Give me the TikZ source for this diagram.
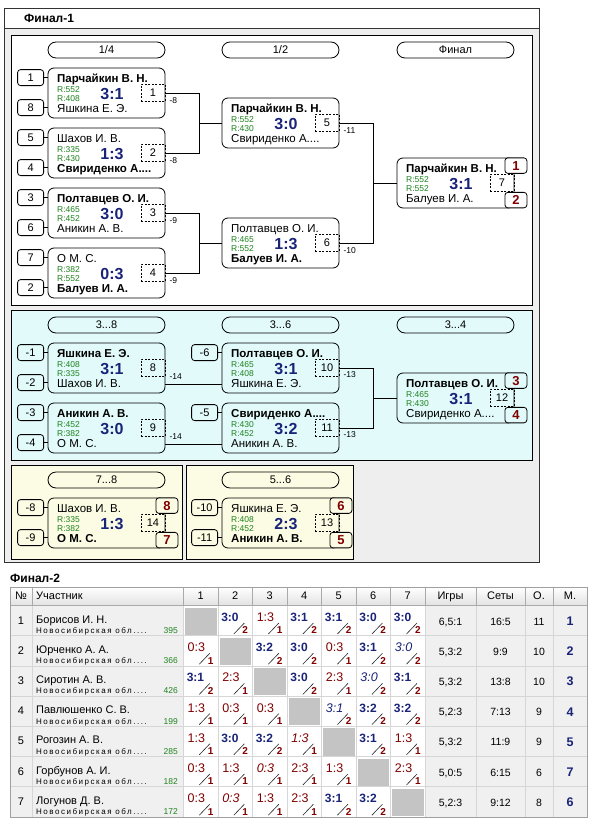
\documentclass[tikz,border=0pt]{standalone}
\usepackage{fontspec}
\setmainfont{Liberation Sans}
\newfontfamily\widefont[LetterSpace=19]{Liberation Sans}
\usetikzlibrary{calc}
\definecolor{navy}{RGB}{25,35,120}
\definecolor{rgreen}{RGB}{30,130,30}
\definecolor{dred}{RGB}{128,0,0}
\definecolor{bodyg}{RGB}{238,238,238}
\definecolor{cyanbg}{RGB}{226,250,250}
\definecolor{yelbg}{RGB}{252,252,228}
\definecolor{framec}{RGB}{50,50,50}
\definecolor{cellg}{RGB}{240,240,240}
\definecolor{gridc}{RGB}{214,214,214}
\definecolor{hsepc}{RGB}{170,170,170}
\definecolor{bordc}{RGB}{160,160,160}
\definecolor{diagc}{RGB}{196,196,196}
\definecolor{hdrbot}{RGB}{226,226,226}
\tikzset{
 ln/.style={line width=0.8pt},
 matchbox/.style={draw,ln,rounded corners=6pt,minimum width=117pt,minimum height=50pt,inner sep=0pt},
 seedbox/.style={draw,ln,rounded corners=3pt,minimum width=26pt,minimum height=16pt,inner sep=0pt,font=\fontsize{11}{11}\selectfont},
 numbox/.style={draw,line width=0.7pt,dash pattern=on 2pt off 1.5pt,minimum width=24pt,minimum height=17pt,inner sep=0pt,font=\fontsize{11}{11}\selectfont},
 placebox/.style={draw,ln,rounded corners=3pt,minimum width=22pt,minimum height=15.5pt,inner sep=0pt,font=\bfseries\fontsize{13}{13}\selectfont,text=dred},
 hdrbox/.style={draw,ln,rounded corners=8pt,minimum width=117pt,minimum height=16pt,inner sep=0pt,font=\fontsize{11}{11}\selectfont},
 nm/.style={inner sep=0pt,anchor=base west,font=\fontsize{11.5}{12}\selectfont},
 rt/.style={inner sep=0pt,anchor=base west,font=\fontsize{8.5}{9}\selectfont,text=rgreen},
 sc/.style={inner sep=0pt,anchor=base,font=\bfseries\fontsize{16}{16}\selectfont,text=navy},
 lbl/.style={inner sep=0pt,anchor=base west,font=\fontsize{8.5}{9}\selectfont},
 conn/.style={draw,ln},
 pnl/.style={draw=black,line width=0.8pt},
 tnum/.style={inner sep=0pt,anchor=base,font=\fontsize{11}{11}\selectfont},
 tname/.style={inner sep=0pt,anchor=base west,font=\fontsize{11}{11}\selectfont},
 treg/.style={inner sep=0pt,anchor=base west,font=\widefont\fontsize{8}{8}\selectfont},
 trat/.style={inner sep=0pt,anchor=base east,font=\fontsize{8.5}{8.5}\selectfont,text=rgreen},
 tval/.style={inner sep=0pt,anchor=base,font=\fontsize{10.5}{10.5}\selectfont},
 tplace/.style={inner sep=0pt,anchor=base,font=\bfseries\fontsize{12.5}{12.5}\selectfont,text=navy},
 thd/.style={inner sep=0pt,anchor=base,font=\fontsize{11}{11}\selectfont},
 slash/.style={draw=black!85,line width=0.6pt},
}
\newcommand\MatchBox[9]{%
 \node[matchbox] (#1) at (#2+58.5,#3+25) {};
 \node[nm] (#1a) at (#2+9,#3+14) {#4};
 \node[rt] (#1ra) at (#2+9,#3+24) {R:#5};
 \node[rt] (#1rb) at (#2+9,#3+33) {R:#6};
 \node[nm] (#1b) at (#2+9,#3+44) {#7};
 \node[sc] (#1s) at (#2+64,#3+31) {#8};
 \node[numbox] (#1d) at (#2+105,#3+24.5) {#9};
}
\newcommand\Seed[4]{%
 \node[seedbox] (#1) at ($(#2.north west)+(-17,#3)$) {#4};
 \draw[conn] (#1) -- (#1 -| #2.west);
}
\newcommand\SC[6]{%
 \pgfmathsetmacro\cx{183.3+34.53*(#1-1)}%
 \pgfmathsetmacro\cy{605.5+30.2*(#2-1)}%
 \node[anchor=base east,inner sep=0pt,font=\fontsize{#6}{12}\selectfont] (t#2x#1) at (\cx+#5,\cy+16) {#3};
 \draw[slash] (\cx+16,\cy+28.5) -- (\cx+26.5,\cy+17.5);
 \node[anchor=base,inner sep=0pt,font=\bfseries\fontsize{10}{10}\selectfont,text=dred] (u#2x#1) at (\cx+27.3,\cy+28.3) {#4};
}
\newcommand\ScW[3]{\SC{#1}{#2}{\bfseries\color{navy}#3}{2}{21}{12}}
\newcommand\ScL[3]{\SC{#1}{#2}{\color{dred}#3}{1}{22}{12.5}}
\newcommand\ScWi[3]{\SC{#1}{#2}{\itshape\color{navy}#3}{2}{22}{12.5}}
\newcommand\ScLi[3]{\SC{#1}{#2}{\itshape\color{dred}#3}{1}{22}{12.5}}
\newcommand\ScG[1]{%
 \fill[diagc] (183.3+34.53*#1-34.53+2,605.5+30.2*#1-30.2+2) rectangle (183.3+34.53*#1-1,605.5+30.2*#1-1);
}
\newcommand\PRow[7]{%
 \pgfmathsetmacro\cy{605.5+30.2*(#1-1)}%
 \node[tnum] (rn#1) at (21,\cy+18.5) {#1};
 \node[tname] (rnm#1) at (36,\cy+17.5) {#2};
 \node[treg] (rrg#1) at (36,\cy+28) {Новосибирская обл....};
 \node[trat] (rr#1) at (178,\cy+28) {#3};
 \node[tval] (rg#1) at (450.5,\cy+19.5) {#4};
 \node[tval] (rs#1) at (500.5,\cy+19.5) {#5};
 \node[tval] (ro#1) at (539,\cy+19.5) {#6};
 \node[tplace] (rp#1) at (570,\cy+20) {#7};
}
\begin{document}
\begin{tikzpicture}[x=1pt,y=-1pt]
\useasboundingbox (0,0) rectangle (595,822);
\fill[white] (0,0) rectangle (595,822);
% ---------- Final-1 frame
\draw[draw=framec,fill=bodyg,line width=0.8pt] (4,8) rectangle (539,562);
\draw[draw=framec,fill=white,line width=0.8pt] (4,8) rectangle (539,28);
\node[anchor=base west,inner sep=0pt,font=\bfseries\fontsize{12}{12}\selectfont] (title1) at (24,22) {Финал-1};
\draw[pnl,fill=white] (11,35) rectangle (532,305);
\draw[pnl,fill=cyanbg] (11,310) rectangle (532,460);
\draw[pnl,fill=yelbg] (11,465) rectangle (182,559);
\draw[pnl,fill=yelbg] (186,465) rectangle (353,559);
% headers
\node[hdrbox] (h1) at (106.5,50) {1/4};
\node[hdrbox] (h2) at (280.5,50) {1/2};
\node[hdrbox] (h3) at (455.5,50) {Финал};
\node[hdrbox] (h4) at (106.5,325) {3...8};
\node[hdrbox] (h5) at (280.5,325) {3...6};
\node[hdrbox] (h6) at (455.5,325) {3...4};
\node[hdrbox] (h7) at (106.5,480) {7...8};
\node[hdrbox] (h8) at (280.5,480) {5...6};
% matches section 1
\MatchBox{m1}{48}{68}{\bfseries Парчайкин В. Н.}{552}{408}{Яшкина Е. Э.}{3:1}{1}
\MatchBox{m2}{48}{128}{Шахов И. В.}{335}{430}{\bfseries Свириденко А....}{1:3}{2}
\MatchBox{m3}{48}{188}{\bfseries Полтавцев О. И.}{465}{452}{Аникин А. В.}{3:0}{3}
\MatchBox{m4}{48}{248}{О М. С.}{382}{552}{\bfseries Балуев И. А.}{0:3}{4}
\MatchBox{m5}{222}{98}{\bfseries Парчайкин В. Н.}{552}{430}{Свириденко А....}{3:0}{5}
\MatchBox{m6}{222}{218}{Полтавцев О. И.}{465}{552}{\bfseries Балуев И. А.}{1:3}{6}
\MatchBox{m7}{397}{158}{\bfseries Парчайкин В. Н.}{552}{552}{Балуев И. А.}{3:1}{7}
% section 2
\MatchBox{m8}{48}{343}{\bfseries Яшкина Е. Э.}{408}{335}{Шахов И. В.}{3:1}{8}
\MatchBox{m9}{48}{403}{\bfseries Аникин А. В.}{452}{382}{О М. С.}{3:0}{9}
\MatchBox{m10}{222}{343}{\bfseries Полтавцев О. И.}{465}{408}{Яшкина Е. Э.}{3:1}{10}
\MatchBox{m11}{222}{403}{\bfseries Свириденко А....}{430}{452}{Аникин А. В.}{3:2}{11}
\MatchBox{m12}{397}{373}{\bfseries Полтавцев О. И.}{465}{430}{Свириденко А....}{3:1}{12}
% section 3
\MatchBox{m14}{48}{498}{Шахов И. В.}{335}{382}{\bfseries О М. С.}{1:3}{14}
\MatchBox{m13}{222}{498}{Яшкина Е. Э.}{408}{452}{\bfseries Аникин А. В.}{2:3}{13}
% seeds
\Seed{s1}{m1}{10}{1}
\Seed{s8}{m1}{40}{8}
\Seed{s5}{m2}{10}{5}
\Seed{s4}{m2}{40}{4}
\Seed{s3}{m3}{10}{3}
\Seed{s6}{m3}{40}{6}
\Seed{s7}{m4}{10}{7}
\Seed{s2}{m4}{40}{2}
\Seed{sm1}{m8}{10}{-1}
\Seed{sm2}{m8}{40}{-2}
\Seed{sm3}{m9}{10}{-3}
\Seed{sm4}{m9}{40}{-4}
\Seed{sm6}{m10}{10}{-6}
\Seed{sm5}{m11}{10}{-5}
\Seed{sm8}{m14}{10}{-8}
\Seed{sm9}{m14}{40}{-9}
\Seed{sm10}{m13}{10}{-10}
\Seed{sm11}{m13}{40}{-11}
% connectors
\draw[conn] (m1.east) -- ++(34,0) |- (m5.west);
\draw[conn] (m2.east) -- ++(34,0) |- (m5.west);
\draw[conn] (m3.east) -- ++(34,0) |- (m6.west);
\draw[conn] (m4.east) -- ++(34,0) |- (m6.west);
\draw[conn] (m5.east) -- ++(34,0) |- (m7.west);
\draw[conn] (m6.east) -- ++(34,0) |- (m7.west);
\draw[conn] ([yshift=-16pt]m8.east) -- ([yshift=-16pt]m8.east -| m10.west);
\draw[conn] ([yshift=-16pt]m9.east) -- ([yshift=-16pt]m9.east -| m11.west);
\draw[conn] (m10.east) -- ++(34,0) |- (m12.west);
\draw[conn] (m11.east) -- ++(34,0) |- (m12.west);
% labels
\node[lbl] (l1) at ($(m1.north east)+(4,36)$) {-8};
\node[lbl] (l2) at ($(m2.north east)+(4,36)$) {-8};
\node[lbl] (l3) at ($(m3.north east)+(4,36)$) {-9};
\node[lbl] (l4) at ($(m4.north east)+(4,36)$) {-9};
\node[lbl] (l5) at ($(m5.north east)+(4,36)$) {-11};
\node[lbl] (l6) at ($(m6.north east)+(4,36)$) {-10};
\node[lbl] (l8) at ($(m8.north east)+(4,37)$) {-14};
\node[lbl] (l9) at ($(m9.north east)+(4,37)$) {-14};
\node[lbl] (l10) at ($(m10.north east)+(4,35)$) {-13};
\node[lbl] (l11) at ($(m11.north east)+(4,35)$) {-13};
% places
\node[placebox,fill=white] (p1) at ($(m7.north east)+(1.5,8)$) {1};
\node[placebox,fill=white] (p2) at ($(m7.north east)+(1.5,42.5)$) {2};
\node[placebox,fill=cyanbg] (p3) at ($(m12.north east)+(1.5,8)$) {3};
\node[placebox,fill=cyanbg] (p4) at ($(m12.north east)+(1.5,42.5)$) {4};
\node[placebox,fill=yelbg] (p8) at ($(m14.north east)+(1.5,8)$) {8};
\node[placebox,fill=yelbg] (p7) at ($(m14.north east)+(1.5,42.5)$) {7};
\node[placebox,fill=yelbg] (p6) at ($(m13.north east)+(1.5,8)$) {6};
\node[placebox,fill=yelbg] (p5) at ($(m13.north east)+(1.5,42.5)$) {5};
% ---------- Final-2 table
\node[anchor=base west,inner sep=0pt,font=\bfseries\fontsize{12}{12}\selectfont] (title2) at (10,582) {Финал-2};
\shade[top color=white,bottom color=hdrbot] (10,587) rectangle (587,605.5);
\fill[cellg] (10,605.5) rectangle (183.3,817);
\fill[white] (183.3,605.5) rectangle (425,817);
\fill[cellg] (425,605.5) rectangle (587,817);
\foreach \i in {1,...,6} {\draw[gridc,line width=0.8pt] (10,605.5+30.2*\i) -- (587,605.5+30.2*\i);}
\foreach \xx in {32,183.3,218.3,252.7,287.3,321.7,356,390.3,425,476,525,553} {
  \draw[gridc,line width=0.8pt] (\xx,605.5) -- (\xx,817);
  \draw[hsepc,line width=0.8pt] (\xx,587) -- (\xx,605.5);
}
\draw[hsepc,line width=0.8pt] (10,605.5) -- (587,605.5);
\foreach \i in {1,...,7} {\ScG{\i}}
\draw[bordc,line width=0.8pt] (10,587) rectangle (587,817);
% header text
\node[thd] (hn) at (21,599) {№};
\node[thd,anchor=base west] (hu) at (36,599) {Участник};
\foreach \i in {1,...,7} {\node[thd] (hc\i) at (183.3+34.53*\i-17.27,599) {\i};}
\node[thd] (hg) at (450.5,599) {Игры};
\node[thd] (hs) at (500.5,599) {Сеты};
\node[thd] (ho) at (539,599) {О.};
\node[thd] (hm) at (570,599) {М.};
% rows
\PRow{1}{Борисов И. Н.}{395}{6,5:1}{16:5}{11}{1}
\PRow{2}{Юрченко А. А.}{366}{5,3:2}{9:9}{10}{2}
\PRow{3}{Сиротин А. В.}{426}{5,3:2}{13:8}{10}{3}
\PRow{4}{Павлюшенко С. В.}{199}{5,2:3}{7:13}{9}{4}
\PRow{5}{Рогозин А. В.}{285}{5,3:2}{11:9}{9}{5}
\PRow{6}{Горбунов А. И.}{182}{5,0:5}{6:15}{6}{7}
\PRow{7}{Логунов Д. В.}{172}{5,2:3}{9:12}{8}{6}
% scores
\ScW{2}{1}{3:0}\ScL{3}{1}{1:3}\ScW{4}{1}{3:1}\ScW{5}{1}{3:1}\ScW{6}{1}{3:0}\ScW{7}{1}{3:0}
\ScL{1}{2}{0:3}\ScW{3}{2}{3:2}\ScW{4}{2}{3:0}\ScL{5}{2}{0:3}\ScW{6}{2}{3:1}\ScWi{7}{2}{3:0}
\ScW{1}{3}{3:1}\ScL{2}{3}{2:3}\ScW{4}{3}{3:0}\ScL{5}{3}{2:3}\ScWi{6}{3}{3:0}\ScW{7}{3}{3:1}
\ScL{1}{4}{1:3}\ScL{2}{4}{0:3}\ScL{3}{4}{0:3}\ScWi{5}{4}{3:1}\ScW{6}{4}{3:2}\ScW{7}{4}{3:2}
\ScL{1}{5}{1:3}\ScW{2}{5}{3:0}\ScW{3}{5}{3:2}\ScLi{4}{5}{1:3}\ScW{6}{5}{3:1}\ScL{7}{5}{1:3}
\ScL{1}{6}{0:3}\ScL{2}{6}{1:3}\ScLi{3}{6}{0:3}\ScL{4}{6}{2:3}\ScL{5}{6}{1:3}\ScL{7}{6}{2:3}
\ScL{1}{7}{0:3}\ScLi{2}{7}{0:3}\ScL{3}{7}{1:3}\ScL{4}{7}{2:3}\ScW{5}{7}{3:1}\ScW{6}{7}{3:2}
\end{tikzpicture}
\end{document}
